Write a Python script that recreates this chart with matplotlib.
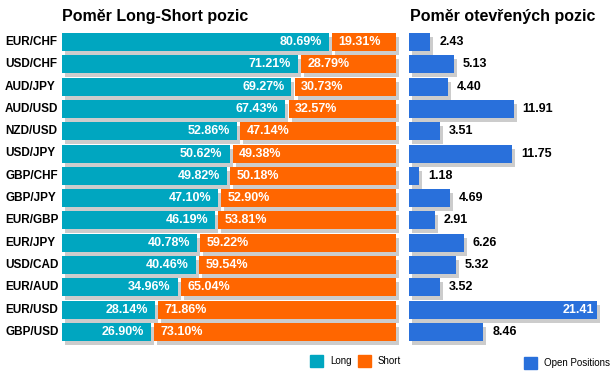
import matplotlib.pyplot as plt
from matplotlib.patches import Rectangle

plt.rcParams['font.family'] = ['Liberation Sans', 'DejaVu Sans']

pairs = ['EUR/CHF', 'USD/CHF', 'AUD/JPY', 'AUD/USD', 'NZD/USD', 'USD/JPY', 'GBP/CHF',
         'GBP/JPY', 'EUR/GBP', 'EUR/JPY', 'USD/CAD', 'EUR/AUD', 'EUR/USD', 'GBP/USD']
long_pct = [80.69, 71.21, 69.27, 67.43, 52.86, 50.62, 49.82, 47.10, 46.19, 40.78, 40.46, 34.96, 28.14, 26.90]
short_pct = [19.31, 28.79, 30.73, 32.57, 47.14, 49.38, 50.18, 52.90, 53.81, 59.22, 59.54, 65.04, 71.86, 73.10]
open_pos = [2.43, 5.13, 4.40, 11.91, 3.51, 11.75, 1.18, 4.69, 2.91, 6.26, 5.32, 3.52, 21.41, 8.46]

c_long = '#00a6c0'
c_short = '#ff6600'
c_open = '#2970db'
c_shadow = '#cccccc'

W, H = 612, 382
fig = plt.figure(figsize=(W / 100, H / 100), dpi=100)

row = 22.3  # px per row
top_px = 42 - 0.5 * row
h_px = 14.25 * row
bottom = 1 - (top_px + h_px) / H
height = h_px / H
ylim = (13.75, -0.5)
bh = 18 / row
dy = 4 / row

# levy panel - long/short
sx = 3.31  # px per procento
ax1 = fig.add_axes([62 / W, bottom, 102.5 * sx / W, height])
ax1.set_xlim(0, 102.5)
ax1.set_ylim(*ylim)
ax1.axis('off')
gap = 1.0
for i in range(len(pairs)):
    L, S = long_pct[i], short_pct[i]
    ax1.barh(i + dy, L, left=3 / sx, height=bh, color=c_shadow, zorder=1)
    ax1.barh(i + dy, S, left=L + gap + 3 / sx, height=bh, color=c_shadow, zorder=1)
    ax1.barh(i, L, height=bh, color=c_long, zorder=2)
    ax1.barh(i, S, left=L + gap, height=bh, color=c_short, zorder=2)
    ax1.annotate('%.2f%%' % L, (L, i), xytext=(-5, 0), textcoords='offset points',
                 ha='right', va='center', color='white', fontsize=9, fontweight='bold', zorder=3)
    ax1.annotate('%.2f%%' % S, (L + gap, i), xytext=(4.5, 0), textcoords='offset points',
                 ha='left', va='center', color='white', fontsize=9, fontweight='bold', zorder=3)
    fig.text(5 / W, 1 - (42 + i * row) / H, pairs[i], ha='left', va='center',
             fontsize=8.5, fontweight='bold', color='black')

fig.text(62 / W, 1 - 17 / H, 'Poměr Long-Short pozic', ha='left', va='center',
         fontsize=11.5, fontweight='bold')

# pravy panel - open positions
ox = 8.78
ax2 = fig.add_axes([409 / W, bottom, 23 * ox / W, height])
ax2.set_xlim(0, 23)
ax2.set_ylim(*ylim)
ax2.axis('off')
for i, v in enumerate(open_pos):
    ax2.barh(i + dy, v, left=3 / ox, height=bh, color=c_shadow, zorder=1)
    ax2.barh(i, v, height=bh, color=c_open, zorder=2)
    if v > 18:
        ax2.annotate('%.2f' % v, (v, i), xytext=(-2, 0), textcoords='offset points',
                     ha='right', va='center', color='white', fontsize=9, fontweight='bold', zorder=3)
    else:
        ax2.annotate('%.2f' % v, (v, i), xytext=(6.5, 0), textcoords='offset points',
                     ha='left', va='center', color='black', fontsize=9, fontweight='bold', zorder=3)

fig.text(410 / W, 1 - 17 / H, 'Poměr otevřených pozic', ha='left', va='center',
         fontsize=11.5, fontweight='bold')

# legenda
def legend_box(x, y, color, label):
    fig.patches.append(Rectangle((x / W, 1 - (y + 12) / H), 13 / W, 12 / H,
                                 transform=fig.transFigure, color=color))
    fig.text((x + 20) / W, 1 - (y + 6) / H, label, ha='left', va='center', fontsize=7)

legend_box(310, 355, c_long, 'Long')
legend_box(358, 355, c_short, 'Short')
legend_box(524, 357, c_open, 'Open Positions')

fig.savefig('out.png', dpi=100)
